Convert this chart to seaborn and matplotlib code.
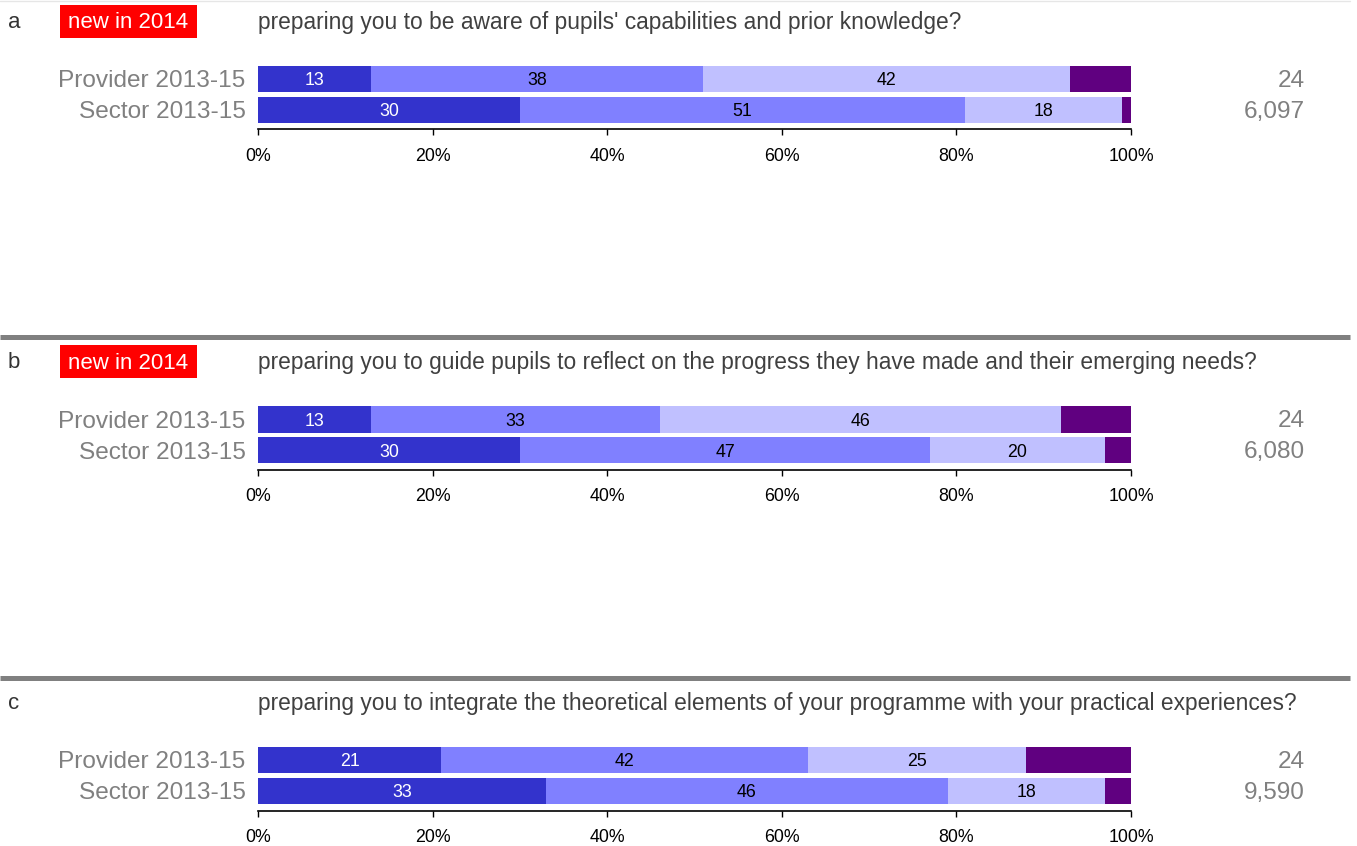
import numpy as np
import pandas as pd
import matplotlib
matplotlib.use("Agg")
import matplotlib.pyplot as plt
import matplotlib.transforms as mtransforms
from matplotlib.patches import Rectangle
from matplotlib.lines import Line2D
import seaborn as sns

# survey data, one entry per question
LETTERS = ["a", "b", "c"]
NEW_IN_2014 = [True, True, False]
QUESTIONS = [
    "preparing you to be aware of pupils' capabilities and prior knowledge?",
    "preparing you to guide pupils to reflect on the progress they have made and their emerging needs?",
    "preparing you to integrate the theoretical elements of your programme with your practical experiences?",
]
GROUPS = ["Provider 2013-15", "Sector 2013-15"]
PROVIDER_PCT = [[13, 38, 42, 7], [13, 33, 46, 8], [21, 42, 25, 12]]
SECTOR_PCT = [[30, 51, 18, 1], [30, 47, 20, 3], [33, 46, 18, 3]]
PROVIDER_N = ["24", "24", "24"]
SECTOR_N = ["6,097", "6,080", "9,590"]
XTICKS = [0, 20, 40, 60, 80, 100]

SEG_COLORS = ["#3333CC", "#8080FF", "#C0C0FF", "#600080"]
LABEL_COLORS = ["white", "black", "black", None]   # purple segment not labelled
GREY = "#808080"

W, H = 1357, 846
PANEL_STEP = 340.5

sns.set_theme(style="white")
plt.rcParams["font.family"] = ["Liberation Sans", "DejaVu Sans"]

fig = plt.figure(figsize=(W / 100, H / 100), dpi=100)


def fy(px):
    # figure fraction from pixel row (top = 0)
    return 1 - px / H


# faint line at the very top
fig.add_artist(Line2D([0, 1350 / W], [fy(1), fy(1)], color="#e6e6e6", lw=1, transform=fig.transFigure))

for i in range(3):
    off = i * PANEL_STEP
    # header row
    fig.text(8 / W, fy(19.5 + off), LETTERS[i], fontsize=16, color="#333333", va="center_baseline", ha="left")
    if NEW_IN_2014[i]:
        fig.add_artist(Rectangle((60 / W, fy(38 + off)), 137 / W, 33 / H, transform=fig.transFigure,
                                 facecolor="red", edgecolor="none"))
        fig.text(128.5 / W, fy(20.5 + off), "new in 2014", fontsize=16, color="white",
                 va="center_baseline", ha="center")
    fig.text(258 / W, fy(19.5 + off), QUESTIONS[i], fontsize=16.4, color="#404040",
             va="center_baseline", ha="left")

    # stacked bars
    ax = fig.add_axes([258 / W, fy(129.5 + off), 873 / W, 66 / H])
    pct = pd.DataFrame([PROVIDER_PCT[i], SECTOR_PCT[i]], index=GROUPS)
    cum = pct.cumsum(axis=1)
    for k in reversed(range(4)):
        d = pd.DataFrame({"group": GROUPS, "value": cum[k].values})
        sns.barplot(data=d, x="value", y="group", order=GROUPS, orient="h", color=SEG_COLORS[k],
                    saturation=1, width=0.84, linewidth=0, edgecolor="none", ax=ax)
    for r, g in enumerate(GROUPS):
        start = 0
        for k in range(4):
            v = pct.loc[g, k]
            if LABEL_COLORS[k] is not None:
                ax.text(start + v / 2, r, str(v), ha="center", va="center_baseline", fontsize=12.8,
                        color=LABEL_COLORS[k])
            start += v

    ax.set_xlim(0, 100)
    ax.set_ylim(1.63, -0.5)
    ax.set_xlabel("")
    ax.set_ylabel("")
    ax.set_xticks(XTICKS, labels=[f"{t}%" for t in XTICKS])
    ax.tick_params(axis="x", direction="out", length=4, width=1, color="black", labelsize=12.8,
                   labelcolor="black", pad=9, bottom=True)
    ax.tick_params(axis="y", length=0, labelsize=17.6, labelcolor=GREY, pad=9)
    for s in ["top", "right", "left"]:
        ax.spines[s].set_visible(False)
    ax.spines["bottom"].set_color("black")
    ax.spines["bottom"].set_linewidth(1.2)

    # sample sizes on the right
    tr = mtransforms.blended_transform_factory(fig.transFigure, ax.transData)
    ax.text(1305 / W, -0.03, PROVIDER_N[i], transform=tr, ha="right", va="center_baseline", fontsize=17.6, color=GREY)
    ax.text(1305 / W, 0.97, SECTOR_N[i], transform=tr, ha="right", va="center_baseline", fontsize=17.6, color=GREY)

    # thick separator under panels a and b
    if i < 2:
        sep = 337.5 + off
        fig.add_artist(Line2D([0, 1350 / W], [fy(sep), fy(sep)], color=GREY, lw=3.6,
                              solid_capstyle="butt", transform=fig.transFigure))

fig.savefig("out.png", dpi=100, facecolor="white")
